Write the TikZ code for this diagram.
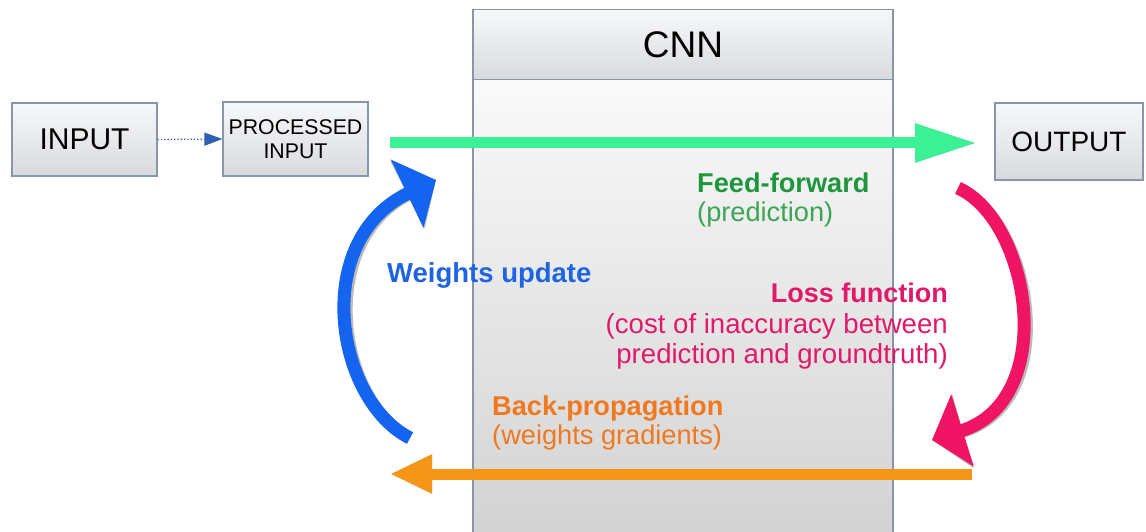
\documentclass[tikz,border=0pt]{standalone}
\usepackage{fontspec}
\setmainfont{Liberation Sans}
\usetikzlibrary{arrows.meta}
\definecolor{boxline}{RGB}{135,150,170}
\definecolor{boxtop}{RGB}{247,248,250}
\definecolor{boxbot}{RGB}{216,218,222}
\definecolor{cnntop}{RGB}{250,250,250}
\definecolor{cnnbot}{RGB}{210,210,210}
\definecolor{arrgreen}{RGB}{60,240,150}
\definecolor{arrpink}{RGB}{240,20,100}
\definecolor{arrblue}{RGB}{20,100,240}
\definecolor{arrorange}{RGB}{245,150,25}
\definecolor{txtgreen}{RGB}{30,150,60}
\definecolor{txtgreenlt}{RGB}{60,165,85}
\definecolor{txtpink}{RGB}{225,25,105}
\definecolor{txtblue}{RGB}{30,100,225}
\definecolor{txtorange}{RGB}{240,120,30}
\definecolor{dotblue}{RGB}{50,95,175}
\definecolor{shadowgray}{RGB}{120,120,120}
\tikzset{
  box/.style={draw=boxline, line width=1.2pt, top color=boxtop, bottom color=boxbot, inner sep=0pt},
  lbl/.style={anchor=base west, inner sep=0pt},
  rlbl/.style={anchor=base east, inner sep=0pt},
  fatline/.style={line width=11pt},
  arcline/.style={line width=13pt},
  straighthead/.style={-{Triangle[length=#1, width=36pt]}},
  archead/.style={-{Triangle[length=32pt, width=74pt]}}
}
\begin{document}
\begin{tikzpicture}[x=1pt,y=-1pt]
\useasboundingbox (0,0) rectangle (1146,532);
\clip (0,0) rectangle (1146,532);
\fill[white] (0,0) rectangle (1146,532);

% CNN block
\node[draw=boxline, line width=1.2pt, top color=cnntop, bottom color=cnnbot, inner sep=0pt,
      minimum width=420pt, minimum height=461pt] (body) at (683,309.5) {};
\node[box, minimum width=420pt, minimum height=70pt, font=\fontsize{37}{42}\selectfont] (cnn) at (683,44.5) {CNN};

% boxes
\node[box, minimum width=145pt, minimum height=73pt, font=\fontsize{30}{34}\selectfont] (in) at (84.5,139.5) {INPUT};
\node[box, minimum width=145pt, minimum height=74pt, align=center, font=\fontsize{21.3}{24}\selectfont] (proc) at (295.5,139) {PROCESSED\\INPUT};
\node[box, minimum width=148pt, minimum height=77pt, font=\fontsize{28}{32}\selectfont] (out) at (1069,141.5) {OUTPUT};

% dotted arrow
\draw[dotblue, line width=1.3pt, dotted, -{Triangle[length=18pt, width=13pt]}] (in.east) -- (proc.west);

% coordinates
\coordinate (gs) at (390,143);
\coordinate (ge) at (977,143);
\coordinate (os) at (972,474);
\coordinate (oe) at (390,474);
\coordinate (ps) at (958,188);
\coordinate (pe) at (932,440);
\coordinate (bs) at (410,438);
\coordinate (be) at (436,180);

% shadows
\begin{scope}[shift={(3,3)}]
\draw[fatline, draw=shadowgray, opacity=0.5, straighthead=62pt] (gs) -- (ge);
\draw[fatline, draw=shadowgray, opacity=0.5, straighthead=42pt] (os) -- (oe);
\draw[arcline, draw=shadowgray, opacity=0.5, archead] (ps) .. controls (1030,220) and (1060,400) .. (pe);
\draw[arcline, draw=shadowgray, opacity=0.5, archead] (bs) .. controls (335,400) and (310,240) .. (be);
\end{scope}

% arrows
\draw[fatline, arrgreen, straighthead=62pt] (gs) -- (ge);
\draw[fatline, arrorange, straighthead=42pt] (os) -- (oe);
\draw[arcline, arrpink, archead] (ps) .. controls (1030,220) and (1060,400) .. (pe);
\draw[arcline, arrblue, archead] (bs) .. controls (335,400) and (310,240) .. (be);

% labels
\node[lbl, txtgreen, font=\fontsize{27.2}{30}\selectfont\bfseries] (ff1) at (697,192) {Feed-forward};
\node[lbl, txtgreenlt, font=\fontsize{27.2}{30}\selectfont] (ff2) at (697,221) {(prediction)};

\node[lbl, txtblue, font=\fontsize{27.5}{30}\selectfont\bfseries] (wu) at (387,282) {Weights update};

\node[rlbl, txtpink, font=\fontsize{27}{30}\selectfont\bfseries] (lf1) at (948,302) {Loss function};
\node[rlbl, txtpink, font=\fontsize{27.6}{30}\selectfont] (lf2) at (948,333) {(cost of inaccuracy between};
\node[rlbl, txtpink, font=\fontsize{27.6}{30}\selectfont] (lf3) at (948,363) {prediction and groundtruth)};

\node[lbl, txtorange, font=\fontsize{27.2}{30}\selectfont\bfseries] (bp1) at (492,415) {Back-propagation};
\node[lbl, txtorange, font=\fontsize{27.2}{30}\selectfont] (bp2) at (492,444) {(weights gradients)};
\end{tikzpicture}
\end{document}
